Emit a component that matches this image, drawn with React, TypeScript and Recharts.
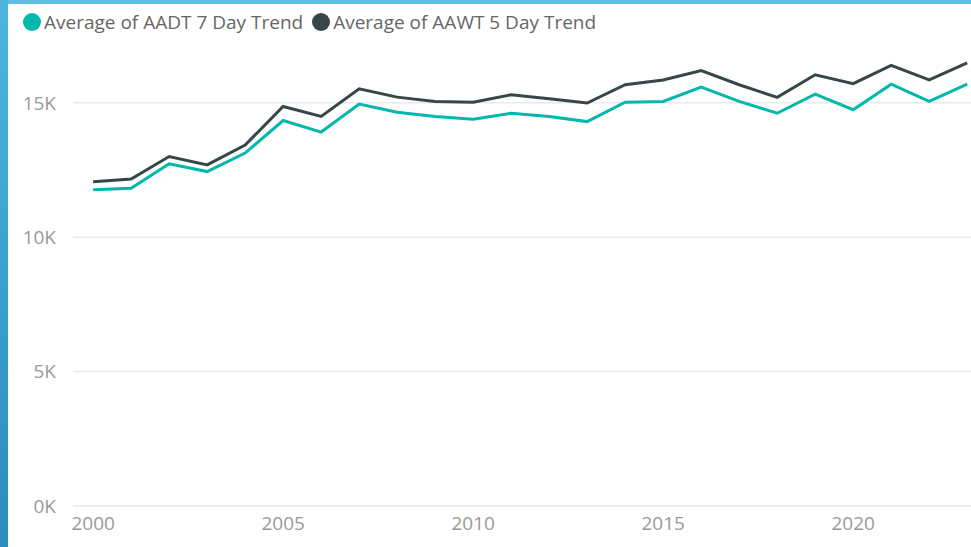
import React from "react";
import { LineChart, Line, XAxis, YAxis, CartesianGrid, Legend } from "recharts";

const years = [2000, 2001, 2002, 2003, 2004, 2005, 2006, 2007, 2008, 2009, 2010, 2011, 2012, 2013, 2014, 2015, 2016, 2017, 2018, 2019, 2020, 2021, 2022, 2023];
const aadt7 = [11760, 11820, 12730, 12440, 13130, 14340, 13910, 14950, 14650, 14490, 14390, 14610, 14490, 14300, 15020, 15050, 15580, 15050, 14610, 15320, 14740, 15690, 15050, 15690];
const aawt5 = [12060, 12160, 13000, 12690, 13430, 14860, 14490, 15520, 15210, 15050, 15020, 15300, 15150, 14990, 15670, 15850, 16200, 15670, 15200, 16040, 15710, 16390, 15850, 16480];
const xTicks = [2000, 2005, 2010, 2015, 2020];
const yTicks = [0, 5000, 10000, 15000];
const seriesNames = ["Average of AADT 7 Day Trend", "Average of AAWT 5 Day Trend"];

const data = years.map((y, i) => ({ year: y, aadt: aadt7[i], aawt: aawt5[i] }));

const FONT = "'Open Sans', 'Noto Sans', sans-serif";

const LegendContent = (props: any) => {
  const { payload } = props;
  return (
    <div style={{ display: "flex", alignItems: "center", fontFamily: FONT, fontSize: 19, lineHeight: "22px", color: "#666", whiteSpace: "nowrap" }}>
      {(payload || []).map((p: any, i: number) => (
        <div key={i} style={{ display: "flex", alignItems: "center", marginRight: 9 }}>
          <span style={{ width: 18, height: 18, borderRadius: "50%", background: p.color, display: "inline-block", marginRight: 3 }} />
          <span>{p.value}</span>
        </div>
      ))}
    </div>
  );
};

export default function App() {
  return (
    <div style={{ position: "fixed", left: 0, top: 0, width: 971, height: 547, background: "#fff", overflow: "hidden" }}>
      <div style={{ position: "absolute", left: 0, top: 0, width: 971, height: 4, background: "#5CC1E3" }} />
      <div style={{ position: "absolute", left: 0, top: 0, width: 8, height: 547, background: "linear-gradient(#4DB5DE, #2A8CBE)" }} />
      <div style={{ position: "absolute", left: 0, top: 0 }}>
        <LineChart width={971} height={547} data={data} margin={{ top: 49, right: 0, left: 0, bottom: 0 }}>
          <CartesianGrid vertical={false} stroke="#e9e9e9" strokeWidth={1.5} syncWithTicks />
          <XAxis
            dataKey="year"
            type="number"
            domain={[1999.47, 2023.1]}
            ticks={xTicks}
            allowDataOverflow
            axisLine={false}
            tickLine={false}
            height={41}
            tick={{ fill: "#999", fontSize: 19, fontFamily: FONT }}
            tickMargin={5}
          />
          <YAxis
            type="number"
            domain={[0, 17000]}
            ticks={yTicks}
            allowDataOverflow
            axisLine={false}
            tickLine={false}
            width={73}
            tickMargin={11}
            tickFormatter={(v: number) => `${v / 1000}K`}
            tick={{ fill: "#999", fontSize: 19, fontFamily: FONT }}
          />
          <Legend
            verticalAlign="top"
            align="left"
            content={<LegendContent />}
            wrapperStyle={{ top: 11, left: 23, height: 0, overflow: "visible" }}
          />
          <Line name={seriesNames[0]} dataKey="aadt" stroke="#01B8AA" strokeWidth={3} dot={false} isAnimationActive={false} />
          <Line name={seriesNames[1]} dataKey="aawt" stroke="#374649" strokeWidth={3} dot={false} isAnimationActive={false} />
        </LineChart>
      </div>
    </div>
  );
}
